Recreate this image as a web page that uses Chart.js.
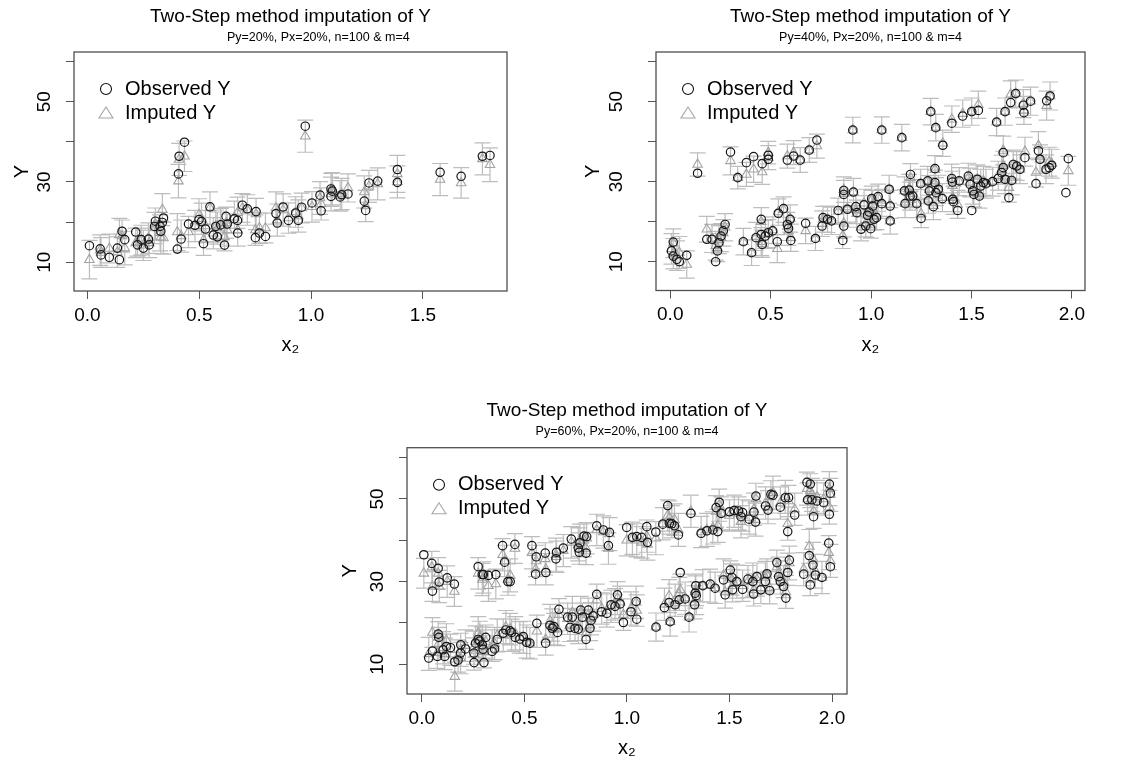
<!DOCTYPE html>
<html>
<head>
<meta charset="utf-8">
<title>Two-Step method imputation of Y</title>
<script src="https://cdn.jsdelivr.net/npm/chart.js@4.4.1/dist/chart.umd.min.js"></script>
<style>
  body { margin: 0; background: #fff; width: 1141px; height: 764px; position: relative; overflow: hidden; }
  .panel { position: absolute; }
  .panel canvas { display: block; }
</style>
</head>
<body>
<div class="panel" style="left:0;top:0"><canvas id="p1" width="570" height="370"></canvas></div>
<div class="panel" style="left:570px;top:0"><canvas id="p2" width="571" height="370"></canvas></div>
<div class="panel" style="left:330px;top:380px"><canvas id="p3" width="580" height="384"></canvas></div>
<script>
// text bits
const titleText = "Two-Step method imputation of Y";
const subtitles = ["Py=20%, Px=20%, n=100 & m=4", "Py=40%, Px=20%, n=100 & m=4", "Py=60%, Px=20%, n=100 & m=4"];
const legendLabels = ["Observed Y", "Imputed Y"];
const xTitle = "x\u2082";
const yTitle = "Y";
const xTickStep = 0.5;
const yTickStep = 10;
const yTickLabels = [10, 30, 50];

// ---- panel 1 : Py=20% ----
const x1 = [0.009,0.057,0.061,0.098,0.134,0.143,0.155,0.167,0.216,0.224,
  0.241,0.25,0.273,0.276,0.3,0.304,0.325,0.328,0.335,0.34,
  0.402,0.407,0.41,0.419,0.434,0.452,0.481,0.499,0.51,0.519,
  0.528,0.548,0.563,0.574,0.581,0.596,0.613,0.62,0.625,0.657,
  0.671,0.672,0.693,0.715,0.751,0.754,0.769,0.796,0.843,0.849,
  0.875,0.899,0.931,0.943,0.958,0.974,1.004,1.04,1.045,1.089,
  1.089,1.095,1.13,1.137,1.165,1.238,1.244,1.259,1.298,1.386,
  1.386,1.577,1.671,1.766,1.8];
const obs1 = [14.1,13.3,11.8,11.2,13.5,10.6,17.7,15.6,17.5,14.3,
  15.6,13.5,15.75,14.3,18.9,20.2,18.9,17.7,19.9,21.0,
  13.25,32.0,36.4,15.75,39.9,19.5,19.2,20.6,20.1,14.6,
  18.25,23.8,16.75,18.9,16.3,19.3,14.25,21.4,19.5,20.8,
  20.4,17.25,24.2,23.3,16.1,22.6,17.25,16.4,22.1,19.75,
  23.75,20.4,22.25,20.4,23.7,43.9,24.75,26.7,22.8,28.25,
  26.4,27.7,26.25,26.8,27.0,25.2,22.9,29.75,30.2,33.1,
  29.9,32.4,31.4,36.4,36.6];
const imp1 = [10.6,13.0,12.4,13.4,12.5,16.8,16.5,13.5,14.8,15.0,
  15.5,14.2,16.0,14.8,18.5,19.5,17.3,16.2,23.1,16.0,
  17.5,30.2,35.6,16.5,36.4,17.5,19.0,21.8,20.8,15.5,
  19.0,23.5,17.2,19.0,18.5,19.5,16.3,19.8,18.0,21.2,
  22.3,18.0,23.5,23.0,18.0,22.0,18.5,18.5,23.5,20.5,
  23.0,21.0,22.5,21.5,23.5,41.4,23.8,26.0,24.5,28.0,
  27.0,28.3,26.5,27.0,28.5,27.5,24.0,28.9,29.5,32.0,
  30.0,30.6,29.75,35.75,34.3];
const ci1 = [4.8,3.8,3.7,3.6,3.8,4.1,4.0,4.2,3.7,3.5,
  3.7,3.8,3.8,3.7,3.9,4.0,4.5,4.1,4.0,4.0,
  4.6,4.2,4.0,4.0,3.8,3.9,3.9,4.0,3.9,3.8,
  3.9,4.0,3.9,4.0,4.0,3.9,3.5,3.9,4.0,4.0,
  3.9,4.0,3.6,3.8,3.8,3.9,3.8,3.7,4.0,4.0,
  4.0,3.8,3.8,4.0,3.7,4.0,3.8,4.1,4.0,4.1,
  4.2,4.0,3.8,3.9,3.5,4.0,3.9,4.0,4.0,4.6,
  4.0,4.0,3.8,4.0,4.2];

// ---- panel 2 : Py=40% ----
const x2 = [0.006,0.015,0.015,0.033,0.045,0.082,0.136,0.182,0.208,0.226,
  0.235,0.242,0.253,0.264,0.273,0.3,0.336,0.364,0.379,0.405,
  0.415,0.427,0.453,0.453,0.458,0.458,0.473,0.488,0.488,0.488,
  0.51,0.533,0.538,0.564,0.583,0.583,0.589,0.597,0.6,0.614,
  0.647,0.674,0.692,0.723,0.73,0.756,0.761,0.783,0.803,0.836,
  0.859,0.864,0.864,0.864,0.882,0.909,0.912,0.924,0.929,0.95,
  0.965,0.973,0.982,0.99,0.998,1.003,1.008,1.015,1.027,1.035,
  1.053,1.053,1.09,1.095,1.095,1.153,1.166,1.169,1.19,1.196,
  1.194,1.207,1.227,1.247,1.249,1.282,1.285,1.29,1.297,1.31,
  1.318,1.318,1.322,1.323,1.335,1.355,1.357,1.402,1.401,1.405,
  1.406,1.41,1.431,1.439,1.456,1.484,1.493,1.501,1.501,1.506,
  1.512,1.529,1.534,1.539,1.546,1.559,1.572,1.605,1.625,1.633,
  1.65,1.658,1.658,1.667,1.667,1.686,1.695,1.7,1.708,1.72,
  1.725,1.741,1.758,1.761,1.766,1.794,1.821,1.833,1.841,1.871,
  1.874,1.887,1.891,1.899,1.97,1.982];
const obs2 = [12.7,14.9,11.4,10.6,10.0,11.6,32.1,15.6,15.6,10.0,
  12.7,14.75,16.4,17.7,19.3,37.4,31.0,15.0,34.75,12.25,
  36.25,16.0,20.6,16.8,14.3,34.5,16.4,36.6,35.6,17.25,
  17.7,15.0,22.1,23.25,35.4,19.3,18.3,20.6,15.3,36.4,
  35.4,19.6,37.9,15.8,40.4,18.9,21.0,20.6,20.2,22.8,
  15.3,18.9,26.8,27.8,23.1,42.9,27.4,23.75,22.25,18.1,
  24.2,18.9,21.6,22.4,18.25,25.75,23.9,20.6,21.0,26.25,
  24.5,42.9,28.1,23.9,20.2,41.0,27.7,24.5,27.9,31.8,
  26.4,26.4,24.5,29.5,20.8,30.2,25.2,27.7,47.5,23.75,
  33.25,29.75,43.5,27.25,28.1,25.75,39.1,44.6,30.8,29.9,
  25.6,25.0,22.8,30.2,46.4,31.4,29.3,47.5,22.8,27.7,
  26.8,30.6,47.8,26.4,28.9,29.75,29.5,30.0,44.9,30.8,
  32.25,37.25,33.5,47.5,30.6,26.0,49.75,30.3,34.3,52.0,
  33.9,33.1,49.1,47.25,36.0,50.1,29.5,37.7,35.6,33.1,
  50.2,33.5,51.4,34.1,27.25,35.75];
const imp2 = [13.2,14.6,12.0,11.5,12.3,9.3,34.3,18.1,15.8,14.0,
  13.5,15.5,16.0,17.2,18.6,35.2,31.0,15.0,31.8,12.25,
  33.1,16.3,20.0,15.0,14.5,32.4,16.8,37.25,36.0,17.0,
  17.9,13.25,22.4,23.0,36.4,18.8,17.6,20.8,16.0,37.25,
  35.4,17.7,37.9,15.8,38.9,19.5,20.6,20.6,20.2,22.6,
  16.5,19.6,27.0,28.0,23.3,42.9,27.4,23.0,22.0,18.6,
  24.6,19.6,21.6,23.0,19.3,25.5,24.2,21.3,21.5,26.0,
  24.7,42.9,28.1,24.3,20.2,41.0,27.7,24.5,28.3,31.0,
  26.4,27.0,24.5,29.5,22.0,30.2,25.6,28.0,47.5,24.0,
  33.0,29.4,43.5,27.5,28.1,26.0,39.6,45.6,30.8,29.0,
  26.0,25.3,24.3,30.0,47.0,31.0,29.8,47.5,null,28.0,
  27.3,30.6,49.2,27.0,29.5,30.2,29.5,30.0,44.9,31.5,
  33.0,37.8,34.0,47.5,30.6,28.5,51.8,30.3,34.3,52.0,
  33.9,33.1,49.5,47.8,37.5,50.1,32.3,39.0,35.6,33.1,
  49.0,35.0,51.4,34.5,null,32.7];
const ci2 = [3.8,3.6,3.8,3.7,4.0,3.4,2.9,3.2,3.5,3.6,
  3.5,3.5,3.5,3.3,3.4,3.5,2.8,3.3,3.0,3.2,
  3.3,3.5,3.5,3.5,3.4,3.1,3.5,2.8,3.0,3.5,
  3.3,3.5,3.3,3.2,3.0,3.5,3.5,3.4,3.4,3.0,
  3.1,3.2,3.1,3.0,3.0,3.2,3.2,3.3,3.4,3.3,
  3.2,3.4,3.3,3.2,3.4,3.2,3.4,3.5,3.4,3.4,
  3.5,3.4,3.5,3.5,3.4,3.4,3.6,3.4,3.5,3.4,
  3.4,3.3,3.5,3.5,3.3,3.3,3.5,3.5,3.5,3.5,
  3.5,3.5,3.5,3.6,3.5,3.6,3.5,3.5,3.3,3.5,
  3.5,3.5,3.3,3.5,3.5,3.5,3.3,3.3,3.6,3.6,
  3.5,3.5,3.5,3.5,3.4,3.6,3.6,3.4,null,3.6,
  3.6,3.6,3.4,3.6,3.6,3.6,3.6,3.6,3.4,3.6,
  3.6,3.6,3.6,3.4,3.6,3.6,3.4,3.6,3.6,3.4,
  3.6,3.6,3.5,3.5,3.6,3.5,3.6,3.5,3.6,3.6,
  3.6,3.6,3.5,3.6,null,3.6];

// ---- panel 3 : Py=60% (upper band first, then lower band) ----
const x3 = [0.010,0.049,0.052,0.080,0.085,0.124,0.159,0.275,0.295,0.301,
  0.325,0.361,0.394,0.404,0.42,0.431,0.454,0.537,0.555,0.558,
  0.602,0.605,0.654,0.657,0.69,0.729,0.763,0.768,0.771,0.791,
  0.804,0.801,0.853,0.885,0.91,0.915,0.999,1.027,1.048,1.072,
  1.097,1.1,1.141,1.175,1.199,1.207,1.219,1.232,1.251,1.312,
  1.362,1.39,1.419,1.435,1.443,1.45,1.46,1.5,1.523,1.544,
  1.556,1.564,1.596,1.619,1.627,1.629,1.676,1.688,1.702,1.712,
  1.748,1.772,1.788,1.784,1.818,1.878,1.894,1.881,1.902,1.91,
  1.927,1.959,1.987,1.992,1.987,
  0.034,0.052,0.08,0.083,0.076,0.104,0.112,0.12,0.14,0.161,
  0.177,0.189,0.19,0.213,0.255,0.254,0.262,0.275,0.283,0.295,
  0.299,0.303,0.312,0.343,0.355,0.368,0.397,0.41,0.43,0.438,
  0.456,0.478,0.495,0.511,0.527,0.561,0.604,0.625,0.636,0.644,
  0.662,0.669,0.711,0.723,0.734,0.747,0.763,0.775,0.783,0.801,
  0.812,0.82,0.825,0.836,0.853,0.877,0.902,0.923,0.942,0.954,
  0.967,0.983,1.02,1.045,1.048,1.142,1.183,1.206,1.211,1.235,
  1.255,1.26,1.284,1.303,1.33,1.333,1.336,1.338,1.37,1.406,
  1.43,1.471,1.479,1.504,1.512,1.515,1.536,1.564,1.59,1.614,
  1.618,1.634,1.653,1.675,1.683,1.696,1.731,1.74,1.748,1.764,
  1.775,1.784,1.792,1.862,1.889,1.894,1.907,1.919,1.951,1.984,
  1.992];
const obs3 = [36.5,34.4,27.7,33.2,29.9,30.9,29.4,33.6,31.7,31.7,
  31.5,31.7,38.7,34.7,30.0,30.0,39.0,38.7,31.8,36.0,
  36.9,32.2,35.5,37.1,38.1,40.3,38.1,37.1,39.4,41.0,
  40.9,36.9,43.5,42.5,38.7,41.9,43.1,40.7,40.9,40.7,
  43.3,39.5,42.0,43.9,48.4,44.1,44.0,43.5,41.3,46.5,
  41.7,42.3,42.5,47.9,42.1,49.2,46.5,46.9,47.2,47.1,
  45.7,46.7,45.1,46.8,44.4,50.7,48.3,47.3,51.1,50.9,
  48.0,50.3,50.3,42.1,46.1,54.0,53.6,49.8,49.8,45.7,
  49.5,49.1,53.6,51.4,46.3,
  11.5,13.2,17.3,16.5,11.9,13.5,11.9,14.3,14.0,10.6,
  11.0,12.7,14.7,13.7,10.4,12.7,15.1,16.0,15.6,14.7,
  13.6,10.4,16.5,13.1,13.7,16.0,17.5,18.3,18.1,17.7,
  16.5,16.1,16.7,15.3,15.1,19.9,15.1,19.4,18.7,19.1,
  17.7,23.3,21.4,18.9,21.4,18.7,18.5,23.1,21.4,16.0,
  23.1,18.7,20.6,21.7,26.9,22.7,22.3,24.4,24.0,26.8,
  24.6,20.1,22.7,25.2,20.9,19.0,23.7,24.9,20.3,24.4,
  25.6,32.2,25.8,21.4,24.4,27.2,29.0,26.6,29.0,29.4,
  28.4,30.4,26.8,32.8,31.0,28.0,30.0,28.1,30.6,30.0,
  27.0,31.2,28.0,30.0,31.9,27.8,34.6,31.2,30.0,28.8,
  26.0,32.2,35.2,31.8,36.3,29.2,34.0,31.6,31.0,39.3,
  33.6];
const imp3 = [32.0,33.5,28.8,32.0,28.8,30.0,27.6,32.0,30.5,31.0,
  29.0,29.4,36.5,35.0,30.5,31.5,38.0,37.0,33.0,35.0,
  35.5,33.0,36.5,36.0,37.5,39.5,39.0,38.0,40.0,40.0,
  40.5,38.0,42.5,42.0,38.0,41.5,40.0,40.5,40.0,39.5,
  41.0,39.0,40.5,44.0,46.0,45.5,44.5,45.0,42.5,47.0,
  42.0,42.5,43.0,47.0,43.5,48.5,46.5,46.0,47.0,46.5,
  44.5,46.0,45.5,47.5,45.0,50.0,49.0,48.0,50.5,51.5,
  49.0,50.5,49.5,44.0,47.5,52.5,52.0,50.0,51.0,47.0,
  50.5,50.0,52.5,51.0,48.0,
  12.5,17.7,16.5,15.0,12.8,14.0,12.5,15.8,13.5,7.0,
  12.0,11.5,13.5,14.5,12.5,14.0,15.5,17.5,16.5,15.0,
  14.5,13.0,15.5,14.5,15.0,17.0,17.0,19.0,18.5,17.0,
  17.5,16.5,16.5,15.5,15.1,18.0,16.0,20.5,19.5,18.5,
  18.5,22.0,21.0,19.5,22.5,19.5,19.0,22.5,21.0,17.5,
  22.0,19.5,21.0,22.0,25.5,23.5,23.0,24.0,24.5,26.0,
  25.0,22.0,23.5,25.0,23.0,19.0,24.5,26.5,20.3,25.5,
  27.0,28.0,26.0,21.4,25.0,27.5,28.0,26.0,29.0,29.0,
  28.5,31.5,27.5,31.0,30.5,29.0,30.0,29.0,30.0,30.5,
  28.0,30.5,28.5,31.0,31.5,28.5,33.5,32.0,31.0,30.0,
  27.5,33.0,34.5,33.0,38.5,30.5,35.5,32.5,31.0,37.0,
  35.0];
const ci3 = [3.6,3.8,3.6,3.8,3.9,3.8,3.6,3.8,3.9,3.8,
  3.8,3.6,3.9,3.8,3.8,4.0,3.6,3.9,3.8,3.8,
  3.9,3.8,4.0,3.8,3.9,3.8,4.0,3.8,3.9,4.0,
  3.8,3.9,3.8,3.9,3.8,4.0,3.8,3.9,4.0,3.8,
  3.9,3.8,4.0,3.9,3.8,4.0,3.9,3.8,4.0,3.9,
  3.8,4.0,3.9,3.8,4.0,3.9,4.0,3.8,3.9,4.0,
  3.9,3.8,4.0,3.9,4.0,3.8,3.9,4.0,3.9,4.0,
  3.9,4.0,3.8,4.0,3.9,4.0,4.1,3.9,4.0,4.1,
  4.0,3.9,4.1,4.0,4.1,
  4.0,3.6,3.8,3.9,3.8,3.9,3.8,4.0,3.8,3.5,
  3.9,3.8,4.0,3.8,3.9,4.0,3.8,4.0,3.9,4.0,
  3.8,3.9,4.0,3.8,3.9,4.0,3.9,4.0,3.8,3.9,
  4.0,3.8,3.9,4.0,3.8,3.9,3.8,4.0,3.9,3.8,
  4.0,3.9,3.8,4.0,3.9,3.8,4.0,3.9,3.8,3.9,
  4.0,3.8,3.9,4.0,3.9,3.8,4.0,3.9,3.8,4.0,
  3.9,3.8,4.0,3.9,3.8,3.4,3.9,4.0,3.5,3.9,
  4.0,3.8,3.9,3.6,4.0,3.9,3.8,4.0,3.9,4.0,
  3.8,4.0,3.9,4.0,3.8,3.9,4.0,3.8,3.9,4.0,
  3.9,4.0,3.8,3.9,4.0,3.9,4.1,3.9,4.0,3.9,
  4.0,3.9,4.1,4.0,4.1,3.9,4.0,4.1,3.9,4.1,
  4.0];

Chart.defaults.font.family = '"Liberation Sans", Arial, Helvetica, sans-serif';
Chart.defaults.color = "#000";

// vertical bars with caps around each imputed value, drawn behind the symbols
const errorBars = {
  id: "errorBars",
  beforeDatasetsDraw(chart) {
    const { ctx, chartArea: a, scales: { x, y } } = chart;
    const pts = chart.data.datasets[1].data;
    ctx.save();
    ctx.beginPath();
    ctx.rect(a.left, a.top, a.right - a.left, a.bottom - a.top);
    ctx.clip();
    ctx.strokeStyle = "#bdbdbd";
    ctx.lineWidth = 1.2;
    ctx.beginPath();
    pts.forEach(p => {
      const px = x.getPixelForValue(p.x);
      const top = y.getPixelForValue(p.y + p.ci);
      const bot = y.getPixelForValue(p.y - p.ci);
      ctx.moveTo(px, top); ctx.lineTo(px, bot);
      ctx.moveTo(px - 8, top); ctx.lineTo(px + 8, top);
      ctx.moveTo(px - 8, bot); ctx.lineTo(px + 8, bot);
    });
    ctx.stroke();
    ctx.restore();
  }
};

// box round the plot region + the key in its top left corner
const frameAndKey = {
  id: "frameAndKey",
  afterDraw(chart) {
    const { ctx, chartArea: a } = chart;
    ctx.save();
    ctx.strokeStyle = "#4f4f4f";
    ctx.lineWidth = 1.3;
    ctx.strokeRect(a.left, a.top, a.right - a.left, a.bottom - a.top);

    const sx = a.left + 32, tx = a.left + 51;
    const y1 = a.top + 37, y2 = a.top + 61;
    ctx.lineWidth = 1.1;
    ctx.strokeStyle = "#111";
    ctx.beginPath();
    ctx.arc(sx, y1, 5.5, 0, Math.PI * 2);
    ctx.stroke();
    ctx.strokeStyle = "#a6a6a6";
    ctx.beginPath();
    ctx.moveTo(sx, y2 - 6);
    ctx.lineTo(sx + 7, y2 + 5);
    ctx.lineTo(sx - 7, y2 + 5);
    ctx.closePath();
    ctx.stroke();

    ctx.fillStyle = "#000";
    ctx.font = '20px "Liberation Sans", Arial, sans-serif';
    ctx.textAlign = "left";
    ctx.textBaseline = "middle";
    ctx.fillText(legendLabels[0], tx, y1);
    ctx.fillText(legendLabels[1], tx, y2);
    ctx.restore();
  }
};

function drawPanel(id, xs, obs, imp, ci, sub, lay) {
  const obsPts = xs.map((x, i) => ({ x: x, y: obs[i] }));
  const impPts = [];
  xs.forEach((x, i) => {
    if (imp[i] !== null) impPts.push({ x: x, y: imp[i], ci: ci[i] });
  });

  return new Chart(document.getElementById(id), {
    type: "scatter",
    data: {
      datasets: [
        { label: legendLabels[0], data: obsPts, pointStyle: "circle", pointRadius: 4.2,
          borderColor: "#161616", backgroundColor: "rgba(0,0,0,0)", borderWidth: 1.2 },
        { label: legendLabels[1], data: impPts, pointStyle: "triangle", pointRadius: 5.5,
          borderColor: "#a3a3a3", backgroundColor: "rgba(0,0,0,0)", borderWidth: 1.1 }
      ]
    },
    options: {
      responsive: false,
      animation: false,
      events: [],
      devicePixelRatio: 1,
      layout: { padding: { left: 0, right: lay.padR, top: 0, bottom: 0 } },
      plugins: {
        legend: { display: false },
        tooltip: { enabled: false },
        title: { display: true, text: titleText, fullSize: false, color: "#000",
          font: { size: 19, weight: "normal", lineHeight: 1.2 },
          padding: { top: lay.titleTop, bottom: 0 } },
        subtitle: { display: true, text: lay.subLead + sub, fullSize: false, color: "#000",
          font: { size: 12.5, weight: "normal", lineHeight: 1.2 },
          padding: { top: 2, bottom: lay.subBottom } }
      },
      scales: {
        x: {
          type: "linear", min: lay.xMin, max: lay.xMax,
          afterFit: s => { s.height = lay.xH; },
          border: { display: false },
          grid: { drawOnChartArea: false, drawTicks: true, tickLength: 8, color: "#555" },
          ticks: { stepSize: xTickStep, includeBounds: false, autoSkip: false, maxRotation: 0,
            padding: 5, color: "#000", font: { size: 19 },
            callback: v => v.toFixed(1) },
          title: { display: true, text: xTitle, color: "#000", font: { size: 20 },
            padding: { top: 0, bottom: lay.xTitleBottom } }
        },
        y: {
          type: "linear", min: 2.8, max: 62.4,
          afterFit: s => { s.width = lay.yW; },
          border: { display: false },
          grid: { drawOnChartArea: false, drawTicks: true, tickLength: 8, color: "#555" },
          ticks: { stepSize: yTickStep, includeBounds: false, autoSkip: false,
            minRotation: 90, maxRotation: 90, crossAlign: "center",
            padding: lay.yPad, color: "#000", font: { size: 19 },
            callback: v => (yTickLabels.includes(v) ? String(v) : "") },
          title: { display: true, text: yTitle, color: "#000", font: { size: 20 },
            padding: { top: lay.yTitleTop, bottom: 0 } }
        }
      }
    },
    plugins: [errorBars, frameAndKey]
  });
}

// the first subtitle sits a little right of centre in the original
drawPanel("p1", x1, obs1, imp1, ci1, subtitles[0],
  { subLead: "\u00a0".repeat(16), padR: 63, titleTop: 5.6, subBottom: 6.6, xMin: -0.06, xMax: 1.876,
    xH: 79, xTitleBottom: 13, yW: 74, yPad: 11, yTitleTop: 10 });
drawPanel("p2", x2, obs2, imp2, ci2, subtitles[1],
  { subLead: "", padR: 56, titleTop: 5.6, subBottom: 6.6, xMin: -0.071, xMax: 2.065,
    xH: 79.5, xTitleBottom: 13, yW: 86, yPad: 21, yTitleTop: 11 });
drawPanel("p3", x3, obs3, imp3, ci3, subtitles[2],
  { subLead: "", padR: 63, titleTop: 19.6, subBottom: 8.3, xMin: -0.072, xMax: 2.073,
    xH: 70, xTitleBottom: 4, yW: 77, yPad: 11, yTitleTop: 8 });
</script>
</body>
</html>
